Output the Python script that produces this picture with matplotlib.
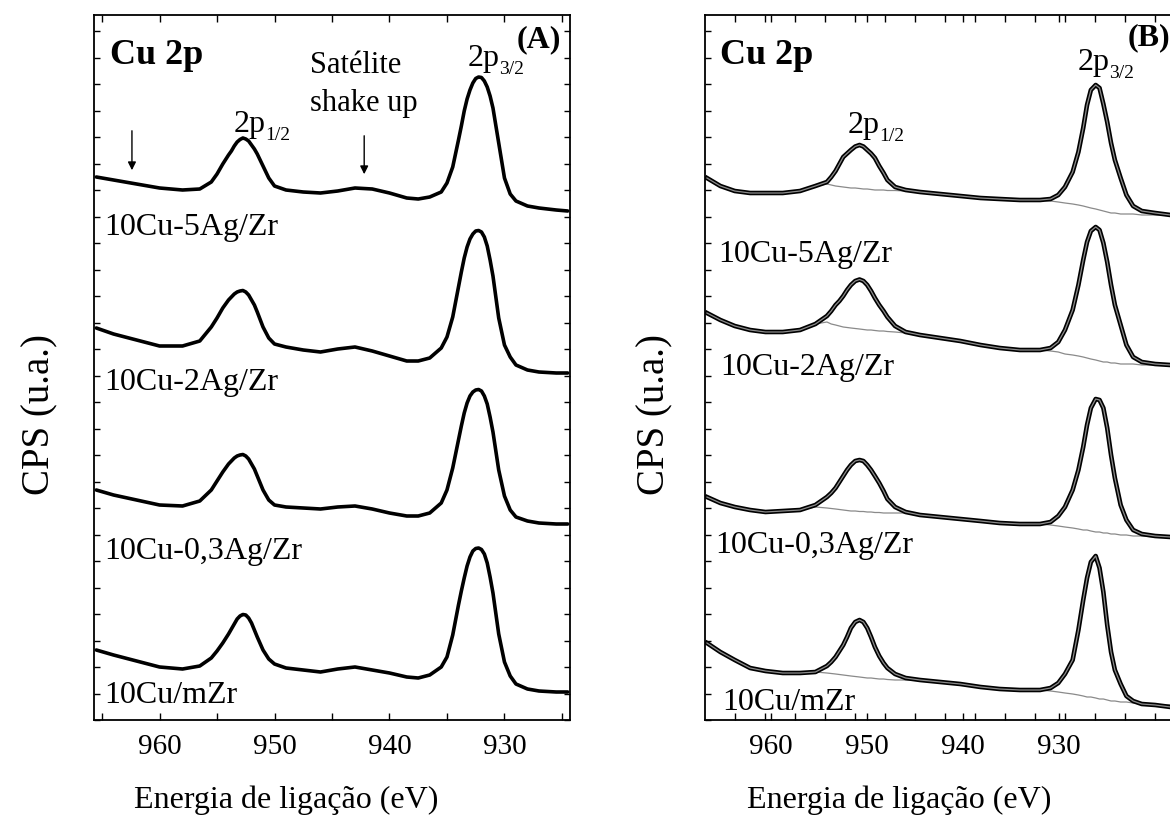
import numpy as np
import matplotlib
matplotlib.use("Agg")
import matplotlib.pyplot as plt
from matplotlib.ticker import MultipleLocator, FixedLocator, NullFormatter

plt.rcParams['font.family'] = ['Liberation Serif', 'DejaVu Serif']

# ---------------- data: panel A (binding energy, eV) ----------------
energy_a = [965.5, 964, 962, 960, 958, 956.5, 955.5, 955, 954.5, 954, 953.75, 953.5, 953.25,
            953, 952.75, 952.5, 952.25, 952, 951.75, 951.5, 951, 950.5, 950, 949, 947.5, 946,
            944.5, 943, 941.5, 940, 938.5, 937.5, 936.5, 935.5, 935, 934.5, 934, 933.75, 933.5,
            933.25, 933, 932.75, 932.5, 932.25, 932, 931.75, 931.5, 931.25, 931, 930.5, 930,
            929.5, 929, 928, 927, 925.5, 924.5]
a_5ag = [543, 540, 536, 532, 530, 531, 538, 546, 556, 565, 569, 574, 578, 580.5, 582, 581, 579,
         575, 571, 566, 554, 542, 534, 530, 528, 527, 529, 532, 531, 527, 522, 521, 523, 528,
         537, 553, 580, 594, 609, 621, 630, 637, 641.5, 643, 642.5, 639, 633, 624, 612, 577,
         542, 526, 519, 514, 512, 510, 509]
a_2ag = [392, 386, 380, 374, 374, 379, 393, 402, 412, 420, 423, 426, 428, 429, 429.5, 428, 425,
         420, 415, 408, 393, 382, 376, 373, 370, 368, 371, 373, 369, 364, 359, 359, 362, 372,
         383, 403, 433, 448, 462, 473, 481, 486, 489, 489.5, 488, 483, 474, 460, 444, 402, 375,
         363, 355, 350, 348, 347, 347]
a_03ag = [230, 225, 220, 215, 214, 219, 230, 239, 248, 256, 259, 262, 264, 265, 265.5, 264, 261,
          256, 251, 244, 230, 220, 215, 213, 212, 211, 213, 214, 211, 207, 204, 204, 207, 217,
          230, 252, 280, 294, 307, 317, 324, 328, 330, 330.5, 329, 324, 316, 303, 288, 250, 224,
          210, 203, 199, 197, 196, 196]
a_mzr = [70, 65, 59, 53, 51, 54, 62, 69, 77, 86, 91, 96, 101, 104, 105.5, 105, 102, 97, 90, 83,
         70, 61, 56, 52, 50, 48, 51, 53, 50, 47, 43, 42, 45, 53, 63, 85, 115, 129, 142, 154, 163,
         169, 171.5, 172, 170.5, 166, 157, 143, 127, 86, 58, 44, 36, 31, 29, 28, 28]

# ---------------- data: panel B (spectrum + Shirley background) ----------------
energy_b = [966.7, 965.3, 963.8, 962.2, 960.6, 958.8, 957.0, 955.4, 954.2, 953.75, 953.3, 952.9,
            952.5, 952.1, 951.7, 951.25, 950.8, 950.4, 950.0, 949.6, 949.2, 948.75, 948.3, 947.9,
            947.1, 946.0, 944.5, 942.4, 940.3, 938.2, 936.2, 934.1, 932.0, 930.9, 930.1, 929.4,
            928.6, 928.0, 927.5, 927.1, 926.7, 926.2, 925.8, 925.4, 925.0, 924.6, 924.2, 923.6,
            923.0, 922.3, 921.4, 920.0, 918.4, 917.0]
b_5ag = [178, 186, 191, 193, 193, 193, 191, 186, 182, 177, 171, 164, 157, 153.5, 150, 146.5, 145,
         146.5, 150, 153.5, 158, 166, 173, 180, 187, 190, 192, 194, 196, 198, 199, 200, 200, 199,
         195, 187, 172, 152, 128, 105, 90, 85, 88, 104, 122, 143, 160, 178, 195, 206, 211, 213,
         215, 215]
b_5ag_bg = [178, 186, 191, 193, 193, 193, 191, 186, 184, 185, 186, 186.5, 187, 187.5, 188, 188,
            188.5, 189, 189, 189.5, 190, 190, 190, 190.5, 190.5, 191, 192, 194, 196, 198, 199,
            200, 200, 201, 202, 203, 204, 205, 206, 207, 208, 209, 210, 211, 212, 213, 213, 214,
            214, 214, 215, 215, 215, 215]
b_2ag = [313, 320, 326, 330, 332, 332, 330, 324, 316, 311, 305, 301, 296, 290, 285, 281, 279.5,
         281, 285, 291, 298, 305, 311, 317, 326, 332, 335, 338, 341, 345, 348, 350, 350, 348,
         342, 330, 310, 285, 260, 242, 231, 227, 230, 243, 262, 285, 305, 325, 345, 357, 362,
         364, 365, 365]
b_2ag_bg = [313, 320, 326, 330, 332, 332, 330, 324, 322, 324, 325, 326, 327, 327.5, 328, 328.5,
            329, 329.5, 330, 330, 330.5, 331, 331, 331.5, 332, 333, 335, 338, 341, 345, 348, 350,
            350, 351, 352, 354, 355, 356, 357, 358, 359, 360, 361, 362, 362, 363, 363, 364, 364,
            364, 365, 365, 365, 365]
b_03ag = [497, 503, 507, 510, 512, 511, 510, 505, 497, 493, 488, 482, 476, 470, 465, 461, 460,
          461, 465, 470, 476, 483, 491, 499, 507, 512, 515, 517, 519, 521, 523, 524, 524, 522,
          516, 507, 490, 470, 447, 425, 408, 399, 400, 408, 428, 455, 478, 505, 520, 530, 534,
          536, 537, 537]
b_03ag_bg = [497, 503, 507, 510, 512, 511, 510, 507, 508, 508.5, 509, 509.5, 510, 510.5, 511,
             511, 511.5, 511.5, 512, 512, 512.5, 512.5, 513, 513, 513, 513, 515, 517, 519, 521,
             523, 524, 524, 525, 526, 527, 528, 529, 530, 530, 531, 532, 532, 533, 533, 534, 534,
             535, 535, 536, 536, 537, 537, 537]
b_mzr = [643, 652, 660, 668, 671, 673, 673, 672, 666, 662, 657, 651, 645, 637, 628, 622, 620,
         622, 628, 637, 647, 656, 663, 668, 674, 678, 680, 682, 684, 687, 689, 690, 690, 688,
         683, 674, 660, 630, 600, 578, 562, 556, 568, 592, 625, 652, 670, 684, 696, 701, 704,
         705, 707, 707]
b_mzr_bg = [643, 652, 660, 668, 671, 673, 673, 672, 673, 673.5, 674, 674.5, 675, 675.5, 676,
            676.5, 677, 677.5, 678, 678, 678.5, 679, 679, 679.5, 680, 680, 680, 682, 684, 687,
            689, 690, 690, 691, 692, 693, 694, 695, 696, 697, 697, 698, 699, 699, 700, 701, 701,
            702, 702, 703, 704, 705, 705, 707]

labels = ['10Cu-5Ag/Zr', '10Cu-2Ag/Zr', '10Cu-0,3Ag/Zr', '10Cu/mZr']
xticks = [960, 950, 940, 930]


def to_cps(vals):
    # panel B values were read top-down (screen depth); convert to upward counts
    return [720 - v for v in vals]


W, H = 1170, 832
fig = plt.figure(figsize=(W / 100, H / 100), dpi=100)


def fx(x):
    return x / W


def fy(y):
    return 1 - y / H


axA = fig.add_axes([fx(94), fy(720), fx(570) - fx(94), fy(15) - fy(720)])
axB = fig.add_axes([fx(705), fy(720), fx(1184) - fx(705), fy(15) - fy(720)])

for s in [a_5ag, a_2ag, a_03ag, a_mzr]:
    axA.plot(energy_a, s, color='black', lw=2.6, solid_joinstyle='round',
             solid_capstyle='round')
axA.set_xlim(965.7, 924.3)

for d, bg in [(b_5ag, b_5ag_bg), (b_2ag, b_2ag_bg), (b_03ag, b_03ag_bg), (b_mzr, b_mzr_bg)]:
    axB.plot(energy_b, to_cps(bg), color='#8a8a8a', lw=0.9)
    axB.plot(energy_b, to_cps(d), color='black', lw=3.3, solid_joinstyle='round')
    axB.plot(energy_b, to_cps(d), color='#8c8c8c', lw=0.9, solid_joinstyle='round')
axB.set_xlim(966.9, 917.0)

for ax in (axA, axB):
    ax.set_ylim(0, 705)
    ax.set_xticks(xticks)
    ax.yaxis.set_major_locator(MultipleLocator(26.5))
    ax.yaxis.set_major_formatter(NullFormatter())
    ax.tick_params(axis='both', which='both', direction='in', top=True, right=True,
                   length=5, width=1, labelsize=21, pad=10)
    ax.tick_params(axis='y', which='both', length=4)
    for sp in ax.spines.values():
        sp.set_linewidth(1.3)

axA.xaxis.set_minor_locator(MultipleLocator(5))
axB.xaxis.set_minor_locator(FixedLocator(list(np.arange(963.75, 916, -3.125))))

# axis titles
fig.text(fx(286), fy(800), 'Energia de ligação (eV)', ha='center', va='center', fontsize=23)
fig.text(fx(899), fy(800), 'Energia de ligação (eV)', ha='center', va='center', fontsize=23)
fig.text(fx(40), fy(415), 'CPS (u.a.)', ha='center', va='center', rotation=90, fontsize=28)
fig.text(fx(655), fy(415), 'CPS (u.a.)', ha='center', va='center', rotation=90, fontsize=28)


def peak_label(x, yb, sub, sub_dx=31, sub_dy=8):
    fig.text(fx(x), fy(yb), '2p', ha='left', va='baseline', fontsize=23)
    fig.text(fx(x + sub_dx), fy(yb + sub_dy), sub, ha='left', va='baseline', fontsize=14)


# panel A annotations
fig.text(fx(110), fy(55), 'Cu 2p', ha='left', va='center', fontsize=26, fontweight='bold')
fig.text(fx(517), fy(40), '(A)', ha='left', va='center', fontsize=23, fontweight='bold')
peak_label(468, 66, '3/2')
peak_label(234, 132, '1/2')
fig.text(fx(310), fy(73), 'Satélite', ha='left', va='baseline', fontsize=22)
fig.text(fx(310), fy(111), 'shake up', ha='left', va='baseline', fontsize=22)
for lab, yb in zip(labels, [235, 390, 559, 703]):
    fig.text(fx(104), fy(yb), lab, ha='left', va='baseline', fontsize=23)

arrow_style = dict(arrowstyle='-|>', lw=1.0, color='black', mutation_scale=12)
axA.annotate('', xy=(962.4, 720 - 173), xytext=(962.4, 720 - 128), arrowprops=arrow_style)
axA.annotate('', xy=(942.2, 720 - 177), xytext=(942.2, 720 - 133), arrowprops=arrow_style)

# panel B annotations
fig.text(fx(720), fy(55), 'Cu 2p', ha='left', va='center', fontsize=26, fontweight='bold')
fig.text(fx(1128), fy(38), '(B)', ha='left', va='center', fontsize=23, fontweight='bold')
peak_label(1078, 70, '3/2')
peak_label(848, 133, '1/2')
for lab, xb, yb in zip(labels, [718, 720, 715, 722], [262, 375, 553, 710]):
    fig.text(fx(xb), fy(yb), lab, ha='left', va='baseline', fontsize=23)

fig.savefig('out.png', dpi=100)
